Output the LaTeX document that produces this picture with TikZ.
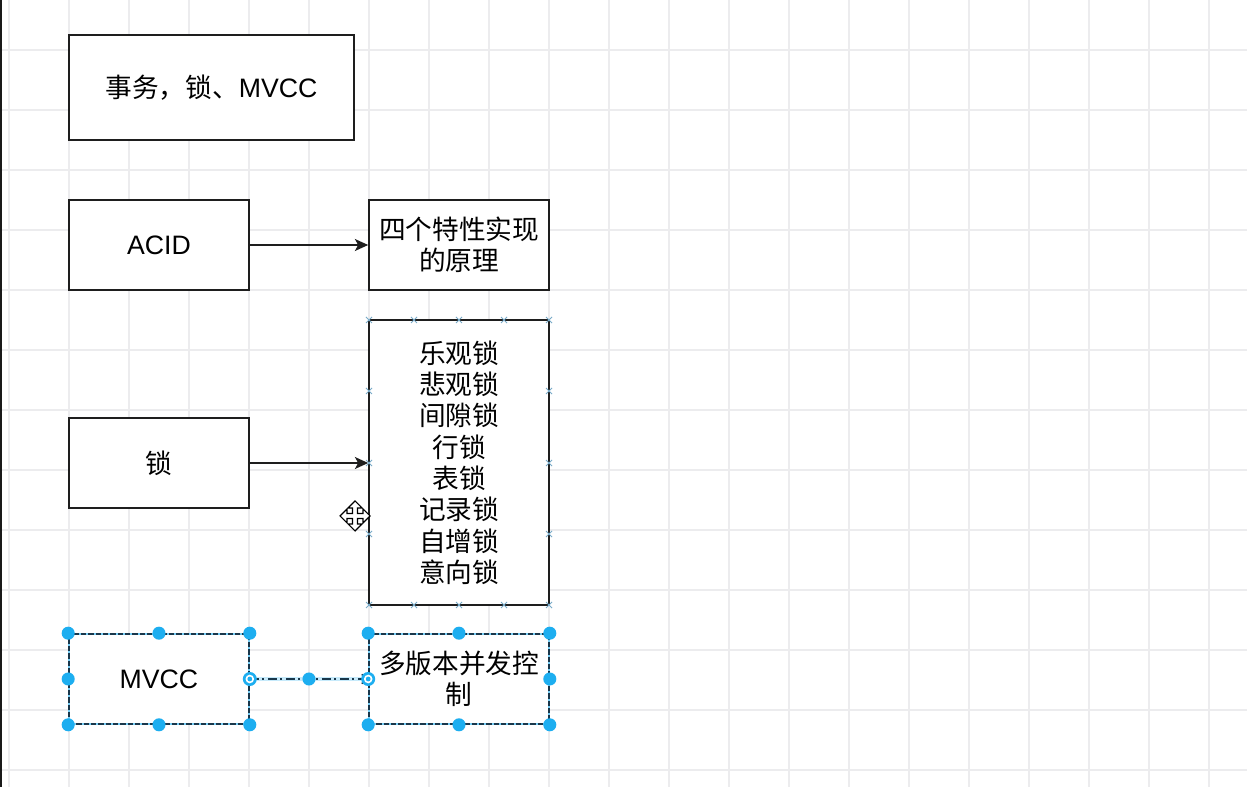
\documentclass[tikz,border=0pt]{standalone}
\usepackage{fontspec}
\setmainfont{Liberation Sans}
\newfontfamily\cjk{Noto Sans CJK SC}
\usetikzlibrary{arrows.meta,calc}
\definecolor{gridc}{RGB}{236,236,238}
\definecolor{handlec}{RGB}{29,174,240}
\definecolor{selline}{RGB}{25,55,75}
\definecolor{cpoint}{RGB}{120,170,200}
\definecolor{boxline}{RGB}{30,30,30}
\begin{document}
\begin{tikzpicture}[x=0.75pt,y=-0.75pt,
  box/.style={draw=boxline, line width=1.2pt, fill=white, minimum width=135pt,
    minimum height=67.5pt, inner sep=0pt, align=center,
    font=\fontsize{20}{23.5}\selectfont},
  selbox/.style={box, draw=selline, dash pattern=on 4pt off 1.5pt},
  conn/.style={line width=1.2pt, draw=boxline, -{Stealth[length=10pt,width=9pt,inset=2.5pt]}},
  handle/.style={circle, fill=handlec, minimum size=9.8pt, inner sep=0pt},
  ring/.pic={\fill[handlec] (0,0) circle (7); \fill[white] (0,0) circle (4.3); \fill[handlec] (0,0) circle (2.4);},
  xmark/.pic={\draw[cpoint, line width=0.7pt] (-3,-3) -- (3,3) (-3,3) -- (3,-3);}
]
% canvas and grid
\useasboundingbox (0,0) rectangle (1247,787);
\fill[white] (0,0) rectangle (1247,787);
\foreach \gx in {9,69,...,1209} \draw[gridc, line width=0.8pt] (\gx,0) -- (\gx,787);
\foreach \gy in {50,110,...,770} \draw[gridc, line width=0.8pt] (0,\gy) -- (1247,\gy);
\draw[black!90, line width=1.6pt] (1,0) -- (1,787);

% nodes
\node[box, minimum width=213.75pt, minimum height=78.75pt] (title) at (211.5,87.5) {{\cjk 事务，锁、}MVCC};
\node[box] (acid) at (159,245) {ACID};
\node[box] (prin) at (459,245) {\cjk 四个特性实现\\\cjk 的原理};
\node[box] (lock) at (159,463) {\cjk 锁};
\node[box, minimum height=213.75pt] (list) at (459,462.5) {\cjk 乐观锁\\\cjk 悲观锁\\\cjk 间隙锁\\\cjk 行锁\\\cjk 表锁\\\cjk 记录锁\\\cjk 自增锁\\\cjk 意向锁};
\node[box, draw=handlec!60] (mvcc) at (159,679) {MVCC};
\node[selbox, fill=none] at (mvcc) {\phantom{MVCC}};
\node[box, draw=handlec!60] (mvc2) at (459,679) {\cjk 多版本并发控\\\cjk 制};
\node[selbox, fill=none] at (mvc2) {\phantom{M}};

% connectors
\draw[conn] (acid) -- (prin);
\draw[conn] (lock.east) -- (lock.east -| list.west);
\draw[handlec!50, line width=3pt, opacity=0.5] (mvcc.east) -- (mvc2.west);
\draw[selline, line width=1.1pt, dash pattern=on 7pt off 2.5pt on 1.5pt off 2.5pt,
  -{Straight Barb[length=4pt,width=7pt]}] (mvcc.east) -- (mvc2.west);

% connection points of the list box
\foreach \px in {369,414,459,504,549} {
  \pic at (\px,320) {xmark};
  \pic at (\px,605) {xmark};
}
\foreach \py in {391,534} {
  \pic at (369,\py) {xmark};
  \pic at (549,\py) {xmark};
}
\pic at (549,463) {xmark};
\pic at (369,463) {xmark};

% selection handles
\foreach \a in {north west,north,north east,west,south west,south,south east}
  \node[handle] at (mvcc.\a) {};
\foreach \a in {north west,north,north east,east,south west,south,south east}
  \node[handle] at (mvc2.\a) {};
\pic at (mvcc.east) {ring};
\pic at (mvc2.west) {ring};
\node[handle] at ($(mvcc.east)!0.5!(mvc2.west)$) {};

% move cursor
\draw[black, fill=white, line width=0.8pt, line join=miter] (355,516)
  ++(0,-15) -- ++(7,7) -- ++(-4.5,0) -- ++(0,5.5) -- ++(5.5,0) -- ++(0,-4.5) -- ++(7,7)
  -- ++(-7,7) -- ++(0,-4.5) -- ++(-5.5,0) -- ++(0,5.5) -- ++(4.5,0) -- ++(-7,7)
  -- ++(-7,-7) -- ++(4.5,0) -- ++(0,-5.5) -- ++(-5.5,0) -- ++(0,4.5) -- ++(-7,-7)
  -- ++(7,-7) -- ++(0,4.5) -- ++(5.5,0) -- ++(0,-5.5) -- ++(-4.5,0) -- cycle;
\end{tikzpicture}
\end{document}
